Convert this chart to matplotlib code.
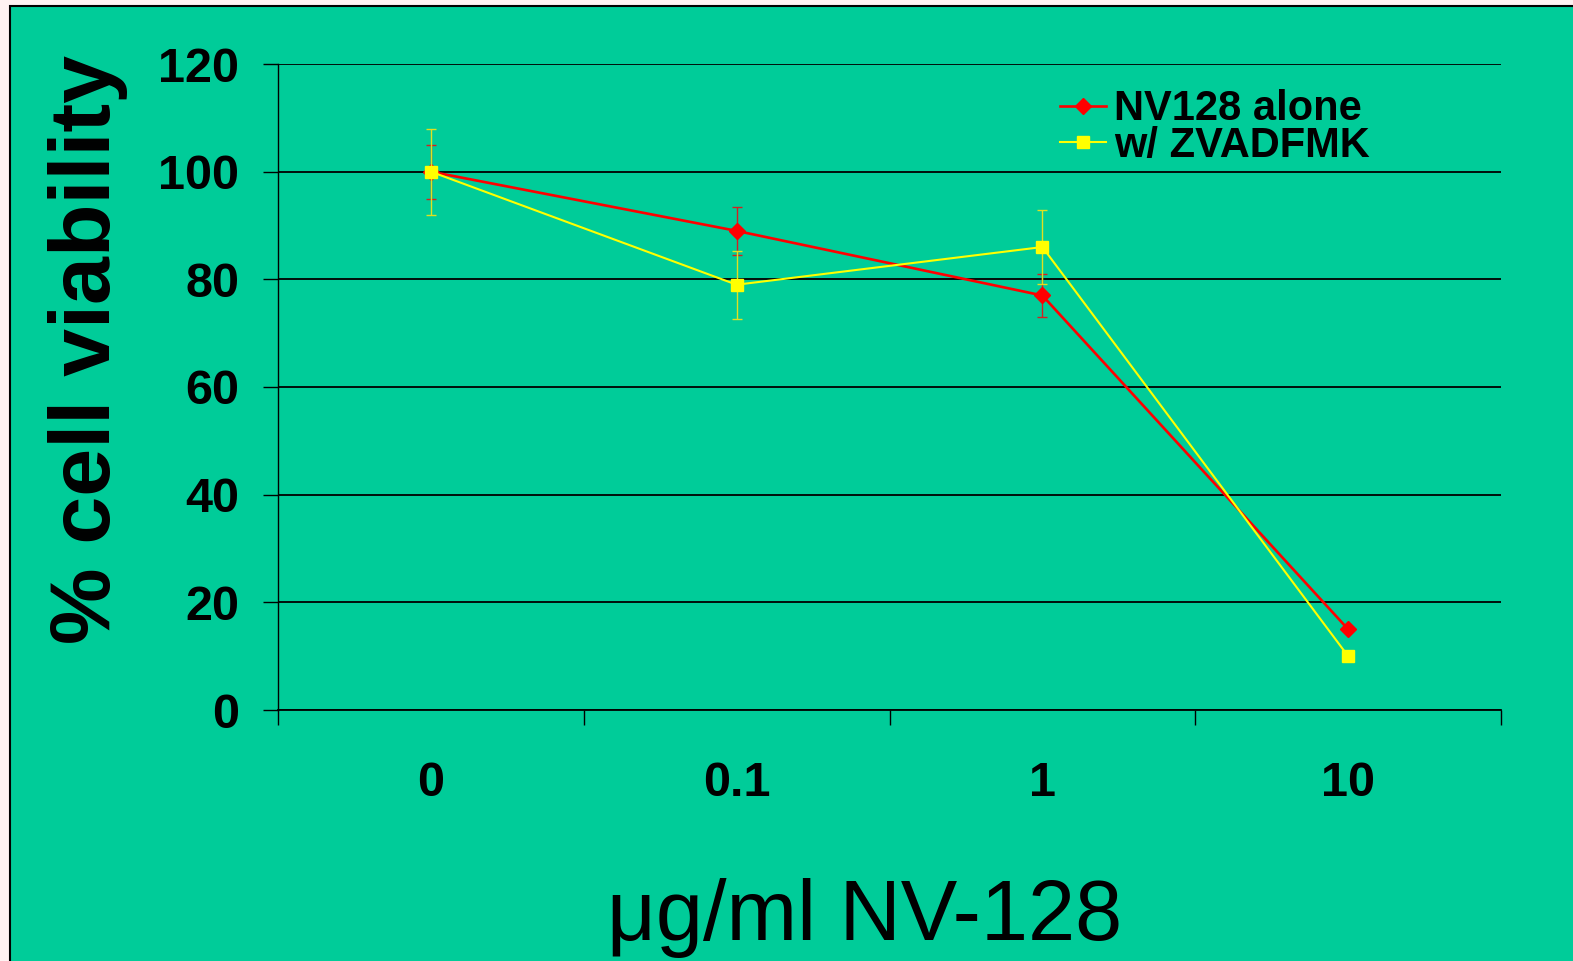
import matplotlib.pyplot as plt
from matplotlib.patches import Rectangle
from matplotlib.lines import Line2D

# Data
doses = ['0', '0.1', '1', '10']
nv128_alone = [100, 89, 77, 15]
nv128_alone_err = [5, 4.5, 4, 0]
zvadfmk = [100, 79, 86, 10]
zvadfmk_err = [8, 6.3, 6.8, 0]

bg = '#00CC99'
plt.rcParams['font.family'] = ['Liberation Sans', 'DejaVu Sans']

fig = plt.figure(figsize=(15.73, 9.61), dpi=100, facecolor='#FFF2F2')
fig.patches.append(Rectangle((10 / 1573, -0.01), 1.02, 1 - 6 / 961 + 0.01,
                             transform=fig.transFigure, facecolor=bg,
                             edgecolor='black', linewidth=1.5, zorder=-10))

ax = fig.add_axes([278 / 1573, 1 - 710 / 961, (1501 - 278) / 1573, (710 - 64) / 961])
ax.set_facecolor(bg)

x = list(range(len(doses)))
ax.errorbar(x, nv128_alone, yerr=nv128_alone_err, color='#FF0000', ecolor='#D42020',
            elinewidth=1, capsize=3.6, capthick=1, linewidth=1.9,
            marker='D', markersize=8, zorder=3)
ax.errorbar(x, zvadfmk, yerr=zvadfmk_err, color='#FFFF00', ecolor='#E0E020',
            elinewidth=1, capsize=3.6, capthick=1, linewidth=1.5,
            marker='s', markersize=9, zorder=4)

ax.set_xlim(-0.5, 3.5)
ax.set_ylim(0, 120)
ax.set_yticks(range(0, 121, 20))
ax.yaxis.grid(True, color='black', linewidth=1.3)
ax.set_axisbelow(True)

ax.set_xticks([-0.5, 0.5, 1.5, 2.5, 3.5])
ax.set_xticklabels([])
ax.set_xticks(x, minor=True)
ax.set_xticklabels(doses, minor=True)
ax.tick_params(axis='x', which='major', length=11, width=1, direction='out')
ax.tick_params(axis='x', which='minor', length=0, pad=37, labelsize=35)
ax.tick_params(axis='y', length=11, width=1, pad=17, labelsize=35)
for lab in ax.get_xticklabels(minor=True) + ax.get_yticklabels():
    lab.set_fontweight('bold')

for side in ['top', 'right']:
    ax.spines[side].set_visible(False)
ax.spines['left'].set_linewidth(1)
ax.spines['bottom'].set_linewidth(1.3)

fig.text(0.056, 0.636, '% cell viability', rotation=90, fontsize=62,
         fontweight='bold', ha='center', va='center')
fig.text(865 / 1573, 1 - 918 / 961, 'μg/ml NV-128', fontsize=61,
         ha='center', va='center')

handles = [Line2D([], [], color='#FF0000', linewidth=1.9, marker='D', markersize=8),
           Line2D([], [], color='#FFFF00', linewidth=1.5, marker='s', markersize=9)]
leg = ax.legend(handles, ['NV128 alone', 'w/ ZVADFMK'], loc='upper left',
                bbox_to_anchor=(0.6394, 0.961), frameon=False,
                fontsize=30, handlelength=1.1, handletextpad=0.2,
                labelspacing=-0.08, borderpad=0, borderaxespad=0)
for t in leg.get_texts():
    t.set_fontweight('bold')

fig.savefig('out.png', dpi=100, facecolor=fig.get_facecolor())
